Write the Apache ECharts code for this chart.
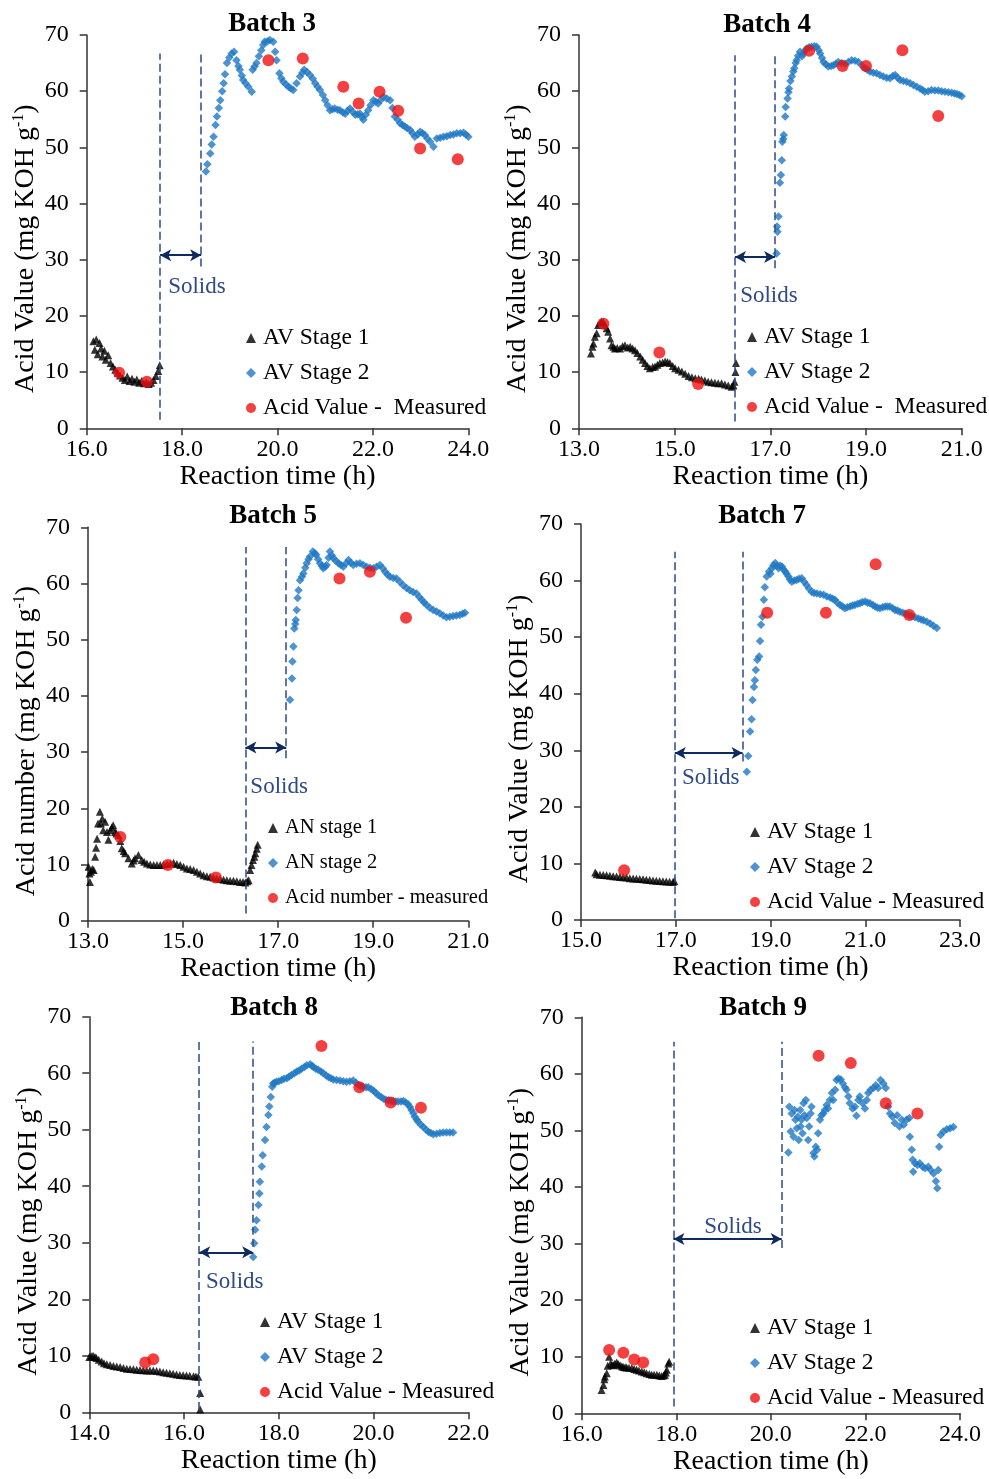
<!DOCTYPE html>
<html><head><meta charset="utf-8">
<script src="https://cdn.jsdelivr.net/npm/echarts@6/dist/echarts.min.js"></script>
<style>html,body{margin:0;padding:0;background:#fff}#c{width:989px;height:1479px}</style>
</head><body><div id="c"></div><script>
// ---------------- DATA ----------------
const yTicks = [0,10,20,30,40,50,60,70];

const b3XTicks = [16,18,20,22,24];
const b3Stage1 = [[16.14,15.5],[16.17,14.0],[16.2,15.8],[16.23,13.2],[16.27,15.2],[16.3,14.2],[16.33,12.8],[16.37,13.8],[16.4,12.2],[16.45,13.0],[16.5,11.6],[16.55,11.0],[16.6,10.4],[16.65,9.9],[16.7,9.4],[16.75,9.0],[16.8,8.6],[16.85,9.2],[16.9,8.4],[16.95,8.8],[17.0,8.3],[17.05,8.7],[17.1,8.1],[17.15,8.4],[17.2,8.0],[17.25,8.2],[17.3,7.9],[17.35,8.1],[17.4,8.6],[17.45,9.3],[17.5,10.2],[17.53,11.2]];
const b3Stage2 = [[18.5,45.7],[18.53,47.0],[18.59,48.9],[18.62,50.5],[18.66,51.9],[18.7,54.0],[18.73,55.5],[18.77,57.0],[18.8,58.4],[18.84,60.0],[18.87,61.4],[18.9,63.0],[18.94,65.0],[18.99,66.0],[19.04,66.7],[19.09,67.0],[19.14,65.5],[19.18,64.5],[19.21,63.8],[19.25,62.8],[19.28,62.0],[19.33,61.4],[19.39,60.8],[19.46,59.9],[19.48,63.8],[19.52,64.4],[19.56,65.0],[19.61,66.2],[19.66,67.3],[19.7,68.2],[19.73,68.8],[19.79,68.9],[19.84,69.1],[19.91,68.8],[19.95,67.0],[19.98,65.5],[20.04,63.2],[20.08,62.3],[20.12,61.7],[20.18,61.2],[20.23,60.8],[20.28,60.5],[20.33,60.2],[20.4,61.4],[20.47,62.6],[20.52,63.3],[20.56,63.8],[20.62,63.4],[20.68,62.9],[20.74,62.2],[20.79,61.4],[20.84,60.8],[20.89,60.2],[20.95,59.3],[21.0,58.4],[21.05,57.5],[21.1,56.6],[21.15,56.8],[21.2,56.9],[21.26,56.7],[21.31,56.6],[21.37,56.2],[21.42,56.0],[21.47,56.5],[21.52,56.9],[21.58,56.3],[21.63,55.8],[21.68,55.9],[21.73,56.0],[21.77,55.4],[21.8,54.9],[21.85,55.8],[21.9,56.6],[21.95,57.5],[22.01,58.4],[22.06,58.1],[22.11,57.8],[22.16,58.4],[22.22,59.0],[22.29,58.7],[22.36,58.4],[22.41,57.0],[22.46,55.5],[22.52,54.9],[22.57,54.3],[22.62,54.0],[22.67,53.7],[22.72,53.4],[22.78,53.1],[22.83,52.5],[22.88,51.9],[22.94,52.3],[22.99,52.8],[23.04,52.5],[23.09,52.2],[23.14,51.6],[23.2,51.0],[23.27,50.1],[23.34,51.6],[23.41,51.7],[23.48,51.9],[23.55,52.0],[23.62,52.2],[23.69,52.3],[23.76,52.5],[23.83,52.5],[23.9,52.6],[23.95,52.3],[24.0,51.9]];
const b3Measured = [[16.68,9.9],[17.26,8.3],[19.81,65.5],[20.53,65.8],[21.38,60.8],[21.7,57.8],[22.14,59.9],[22.53,56.5],[22.99,49.8],[23.78,47.9]];
const b3Lines = [[17.54,1.5,66.7],[18.4,28.8,66.7]];
const b3Arrow = [17.54,18.4,30.8];
const b3Solids = [18.31,25.2];

const b4XTicks = [13,15,17,19,21];
const b4Stage1 = [[13.25,13.3],[13.28,14.5],[13.3,15.1],[13.33,16.3],[13.37,16.9],[13.4,18.4],[13.44,18.8],[13.47,19.0],[13.51,18.9],[13.54,18.4],[13.58,17.8],[13.61,17.2],[13.65,16.0],[13.68,14.8],[13.72,14.5],[13.75,14.2],[13.8,14.3],[13.86,14.2],[13.91,14.6],[13.96,14.8],[14.02,14.4],[14.07,14.5],[14.12,14.2],[14.17,13.9],[14.22,13.4],[14.28,12.8],[14.33,12.2],[14.38,11.6],[14.43,11.1],[14.48,10.7],[14.54,10.9],[14.59,11.0],[14.64,11.3],[14.69,11.6],[14.75,11.7],[14.8,11.9],[14.85,11.8],[14.9,11.6],[14.96,11.1],[15.01,10.7],[15.08,10.4],[15.15,10.1],[15.22,9.7],[15.29,9.3],[15.36,9.1],[15.43,8.9],[15.5,8.8],[15.56,8.7],[15.63,8.5],[15.7,8.3],[15.77,8.2],[15.84,8.1],[15.91,8.0],[15.98,8.0],[16.05,7.8],[16.12,7.6],[16.19,7.4],[16.23,7.6],[16.25,8.3],[16.27,10.0],[16.28,11.6]];
const b4Stage2 = [[17.13,31.1],[17.14,35.9],[17.15,35.0],[17.17,37.7],[17.2,43.7],[17.22,45.1],[17.24,47.7],[17.25,51.0],[17.27,51.5],[17.28,52.2],[17.31,55.5],[17.32,57.2],[17.36,58.7],[17.38,59.8],[17.39,60.5],[17.42,61.8],[17.45,62.6],[17.48,63.5],[17.5,64.1],[17.53,65.0],[17.55,65.5],[17.58,66.3],[17.62,67.0],[17.66,66.2],[17.69,66.7],[17.72,67.2],[17.76,67.6],[17.81,67.8],[17.86,67.9],[17.92,68.0],[17.97,67.9],[18.01,67.3],[18.04,66.7],[18.08,65.9],[18.11,65.2],[18.16,64.8],[18.21,64.4],[18.27,64.5],[18.32,64.6],[18.37,64.9],[18.42,65.2],[18.49,65.0],[18.56,64.9],[18.63,65.2],[18.7,65.5],[18.77,65.4],[18.84,65.2],[18.91,64.6],[18.98,64.1],[19.03,63.8],[19.08,63.5],[19.15,63.3],[19.22,63.2],[19.29,62.9],[19.36,62.6],[19.43,62.4],[19.5,62.3],[19.56,62.7],[19.61,62.9],[19.66,62.4],[19.71,62.0],[19.78,61.8],[19.85,61.7],[19.92,61.4],[19.99,61.1],[20.06,60.8],[20.13,60.5],[20.18,60.2],[20.23,59.9],[20.3,60.0],[20.37,60.2],[20.44,60.1],[20.51,60.1],[20.58,60.0],[20.65,59.9],[20.72,59.8],[20.79,59.7],[20.85,59.6],[20.9,59.5],[20.95,59.3],[21.0,59.1]];
const b4Measured = [[13.51,18.6],[14.68,13.5],[15.49,7.9],[17.81,67.2],[18.51,64.5],[19.0,64.5],[19.76,67.3],[20.51,55.6]];
const b4Lines = [[16.26,1.2,66.4],[17.1,28.5,66.4]];
const b4Arrow = [16.26,17.1,30.5];
const b4Solids = [16.97,23.6];

const b5XTicks = [13,15,17,19,21];
const b5Stage1 = [[13.01,9.6],[13.03,8.4],[13.04,6.9],[13.06,8.7],[13.09,9.2],[13.12,9.0],[13.15,11.4],[13.17,13.0],[13.19,14.6],[13.21,17.3],[13.25,19.4],[13.27,17.3],[13.3,18.2],[13.32,16.1],[13.36,17.6],[13.4,15.8],[13.43,14.4],[13.47,16.1],[13.5,16.6],[13.53,17.0],[13.57,15.8],[13.6,15.5],[13.64,15.2],[13.68,14.2],[13.71,12.9],[13.75,12.4],[13.78,12.0],[13.85,11.1],[13.92,10.2],[13.96,10.7],[13.99,11.1],[14.06,11.7],[14.13,10.8],[14.18,10.5],[14.24,10.2],[14.31,10.0],[14.38,9.9],[14.45,9.9],[14.52,9.9],[14.59,10.0],[14.66,10.1],[14.73,10.2],[14.8,10.3],[14.87,10.1],[14.94,9.9],[15.01,9.6],[15.08,9.3],[15.15,9.2],[15.22,9.0],[15.29,8.7],[15.36,8.4],[15.43,8.1],[15.5,7.9],[15.57,7.8],[15.64,7.7],[15.71,7.5],[15.78,7.4],[15.85,7.3],[15.92,7.2],[15.99,7.1],[16.06,7.1],[16.13,7.0],[16.2,6.9],[16.26,6.9],[16.31,6.8],[16.35,7.0],[16.38,7.2],[16.41,9.0],[16.44,9.9],[16.47,10.8],[16.5,11.4],[16.52,12.0],[16.55,12.8],[16.57,13.5]];
const b5Stage2 = [[17.25,39.3],[17.29,43.1],[17.3,46.1],[17.32,48.8],[17.34,52.0],[17.36,52.8],[17.37,53.5],[17.39,55.3],[17.41,57.4],[17.43,58.8],[17.46,60.6],[17.5,61.2],[17.53,61.8],[17.57,62.8],[17.6,63.6],[17.64,64.3],[17.67,64.8],[17.73,65.7],[17.77,65.4],[17.8,65.1],[17.84,64.3],[17.88,63.6],[17.92,63.1],[17.95,62.7],[17.99,63.0],[18.02,63.3],[18.06,64.6],[18.09,65.7],[18.13,65.0],[18.16,64.5],[18.22,64.0],[18.27,63.6],[18.32,63.3],[18.37,63.0],[18.43,63.6],[18.48,64.2],[18.53,63.7],[18.58,63.3],[18.65,63.5],[18.72,63.6],[18.79,63.3],[18.86,63.0],[18.93,62.8],[19.0,62.7],[19.07,63.0],[19.14,63.3],[19.2,62.7],[19.25,62.1],[19.3,61.6],[19.35,61.2],[19.42,61.0],[19.49,60.9],[19.56,60.3],[19.63,59.7],[19.7,59.2],[19.77,58.8],[19.84,58.5],[19.91,58.2],[19.97,57.6],[20.02,57.1],[20.07,56.6],[20.12,56.2],[20.19,55.7],[20.26,55.3],[20.33,55.0],[20.4,54.7],[20.47,54.3],[20.54,54.0],[20.61,54.1],[20.68,54.2],[20.75,54.3],[20.82,54.4],[20.88,54.6],[20.93,54.8]];
const b5Measured = [[13.68,14.9],[14.68,9.9],[15.69,7.7],[18.29,60.9],[18.93,62.1],[19.69,53.9]];
const b5Lines = [[16.31,1.3,66.5],[17.17,28.9,66.5]];
const b5Arrow = [16.31,17.17,30.8];
const b5Solids = [17.02,23.8];

const b7XTicks = [15,17,19,21,23];
const b7Stage1 = [[15.3,8.4],[15.33,8.1],[15.4,8.0],[15.47,7.95],[15.54,7.9],[15.61,7.8],[15.68,7.75],[15.75,7.7],[15.82,7.6],[15.89,7.55],[15.96,7.5],[16.03,7.4],[16.1,7.35],[16.17,7.3],[16.24,7.25],[16.31,7.2],[16.38,7.1],[16.45,7.05],[16.52,7.0],[16.59,6.95],[16.66,6.9],[16.73,6.85],[16.8,6.8],[16.87,6.75],[16.94,6.7],[16.97,6.9]];
const b7Stage2 = [[18.5,26.2],[18.53,29.0],[18.57,33.3],[18.6,35.5],[18.62,38.9],[18.65,41.2],[18.67,42.4],[18.69,44.2],[18.72,46.0],[18.76,46.6],[18.78,49.3],[18.8,52.2],[18.83,53.6],[18.86,56.6],[18.88,58.8],[18.92,60.7],[18.97,61.6],[19.0,61.2],[19.03,62.2],[19.06,62.7],[19.1,63.1],[19.13,62.6],[19.17,62.2],[19.2,62.6],[19.24,62.5],[19.27,62.0],[19.31,61.6],[19.34,61.2],[19.38,60.7],[19.41,60.2],[19.45,59.8],[19.5,60.0],[19.55,60.1],[19.6,60.3],[19.66,60.4],[19.71,59.8],[19.76,59.2],[19.81,58.6],[19.87,58.0],[19.92,57.8],[19.98,57.7],[20.05,57.6],[20.12,57.5],[20.19,57.2],[20.26,57.0],[20.31,56.8],[20.36,56.6],[20.41,56.1],[20.47,55.7],[20.52,55.4],[20.57,55.1],[20.62,55.3],[20.68,55.4],[20.73,55.6],[20.78,55.7],[20.84,55.9],[20.89,56.0],[20.94,56.2],[21.0,56.3],[21.05,56.1],[21.1,56.0],[21.16,55.7],[21.21,55.4],[21.26,55.2],[21.31,55.1],[21.37,55.3],[21.42,55.4],[21.47,55.4],[21.52,55.4],[21.58,55.1],[21.63,54.8],[21.68,54.7],[21.73,54.5],[21.79,54.3],[21.84,54.2],[21.91,53.9],[21.98,53.7],[22.05,53.5],[22.12,53.3],[22.18,53.1],[22.23,53.0],[22.3,52.7],[22.37,52.4],[22.44,52.0],[22.51,51.6]];
const b7Measured = [[15.91,8.8],[18.93,54.3],[20.17,54.3],[21.22,62.9],[21.93,53.9]];
const b7Lines = [[16.98,0.3,65.1],[18.41,28.0,65.1]];
const b7Arrow = [16.98,18.41,29.5];
const b7Solids = [17.74,25.1];

const b8XTicks = [14,16,18,20,22];
const b8Stage1 = [[14.0,9.8],[14.04,9.9],[14.08,10.0],[14.12,9.8],[14.15,9.6],[14.2,9.3],[14.26,9.0],[14.31,8.7],[14.37,8.5],[14.44,8.35],[14.51,8.2],[14.58,8.1],[14.65,8.0],[14.72,7.85],[14.79,7.7],[14.86,7.65],[14.93,7.6],[15.0,7.55],[15.07,7.5],[15.14,7.45],[15.21,7.4],[15.28,7.4],[15.35,7.4],[15.42,7.3],[15.49,7.2],[15.56,7.1],[15.63,7.0],[15.7,6.9],[15.77,6.8],[15.84,6.7],[15.91,6.6],[15.98,6.55],[16.05,6.5],[16.12,6.45],[16.2,6.4],[16.25,6.35],[16.3,6.3],[16.34,3.4],[16.34,0.5]];
const b8Stage2 = [[17.46,27.5],[17.48,29.9],[17.5,32.3],[17.53,34.0],[17.57,36.7],[17.59,38.7],[17.6,40.8],[17.64,43.5],[17.66,45.5],[17.71,48.2],[17.74,50.5],[17.78,52.6],[17.8,54.1],[17.83,55.8],[17.86,57.6],[17.88,58.2],[17.91,58.3],[17.95,58.5],[18.0,58.6],[18.06,58.8],[18.11,59.0],[18.17,59.1],[18.22,59.4],[18.27,59.7],[18.33,60.0],[18.38,60.3],[18.43,60.5],[18.48,60.8],[18.54,61.1],[18.59,61.4],[18.66,61.6],[18.7,61.3],[18.73,61.1],[18.78,60.8],[18.83,60.6],[18.89,60.3],[18.94,60.0],[19.0,59.6],[19.05,59.3],[19.1,59.1],[19.15,58.9],[19.22,58.8],[19.29,58.7],[19.36,58.6],[19.43,58.5],[19.5,58.6],[19.57,58.7],[19.63,58.3],[19.68,57.9],[19.73,57.7],[19.78,57.6],[19.84,57.5],[19.89,57.5],[19.95,57.2],[20.0,56.9],[20.05,56.5],[20.1,56.1],[20.16,55.8],[20.21,55.5],[20.26,55.3],[20.31,55.2],[20.37,55.1],[20.42,55.0],[20.47,55.0],[20.52,55.0],[20.58,55.0],[20.63,55.1],[20.68,54.8],[20.73,54.5],[20.77,54.0],[20.8,53.5],[20.84,52.9],[20.87,52.3],[20.91,51.8],[20.94,51.4],[21.0,50.9],[21.05,50.5],[21.11,50.0],[21.16,49.6],[21.21,49.4],[21.26,49.2],[21.33,49.3],[21.4,49.4],[21.47,49.5],[21.54,49.5],[21.61,49.5],[21.68,49.5]];
const b8Measured = [[15.18,8.8],[15.35,9.4],[18.9,64.8],[19.7,57.5],[20.36,54.8],[21.0,53.9]];
const b8Lines = [[16.32,0.4,65.6],[17.46,29.3,65.6]];
const b8Arrow = [16.32,17.46,28.3];
const b8Solids = [17.07,23.1];

const b9XTicks = [16,18,20,22,24];
const b9Stage1 = [[16.42,4.1],[16.46,5.0],[16.48,6.0],[16.49,6.5],[16.53,7.1],[16.55,8.4],[16.58,10.0],[16.61,8.8],[16.64,8.6],[16.67,8.5],[16.7,8.8],[16.74,9.0],[16.77,8.7],[16.81,8.5],[16.85,8.3],[16.88,8.2],[16.92,8.15],[16.95,8.1],[17.0,8.05],[17.06,8.0],[17.11,7.85],[17.16,7.7],[17.21,7.55],[17.27,7.4],[17.32,7.25],[17.37,7.1],[17.43,6.95],[17.48,6.8],[17.53,6.8],[17.59,6.8],[17.64,6.7],[17.69,6.6],[17.73,6.7],[17.76,6.8],[17.78,7.2],[17.8,7.7],[17.83,8.8],[17.85,9.1]];
const b9Stage2 = [[20.37,46.1],[20.39,54.2],[20.42,49.8],[20.44,53.0],[20.48,48.9],[20.5,53.6],[20.52,51.9],[20.55,50.4],[20.57,52.4],[20.59,48.3],[20.62,53.6],[20.63,50.7],[20.65,51.9],[20.67,49.5],[20.69,54.8],[20.71,52.7],[20.74,55.4],[20.76,52.2],[20.79,48.3],[20.81,50.7],[20.84,53.0],[20.86,54.2],[20.9,46.0],[20.92,45.4],[20.95,47.1],[20.98,46.6],[21.0,49.5],[21.04,51.9],[21.07,52.7],[21.11,53.0],[21.14,53.6],[21.18,54.5],[21.21,53.9],[21.25,55.4],[21.29,56.6],[21.32,55.4],[21.36,57.2],[21.39,58.9],[21.43,59.2],[21.48,59.0],[21.52,58.3],[21.57,57.6],[21.6,57.2],[21.64,56.0],[21.67,54.8],[21.73,53.9],[21.78,54.2],[21.81,52.6],[21.85,55.4],[21.88,56.0],[21.94,54.8],[21.99,53.9],[22.03,55.4],[22.06,56.6],[22.11,57.2],[22.17,57.5],[22.22,58.0],[22.27,57.5],[22.32,58.9],[22.38,58.3],[22.43,57.5],[22.48,54.2],[22.52,53.0],[22.57,52.4],[22.62,51.3],[22.67,52.7],[22.72,50.7],[22.77,51.9],[22.81,51.0],[22.87,51.9],[22.93,52.2],[22.94,48.9],[22.98,46.6],[23.0,44.8],[23.01,42.7],[23.05,44.2],[23.1,43.9],[23.15,44.2],[23.21,43.6],[23.26,43.3],[23.33,43.6],[23.38,43.0],[23.44,42.4],[23.49,41.0],[23.52,39.8],[23.54,43.0],[23.56,47.1],[23.59,49.2],[23.65,49.8],[23.72,50.2],[23.79,50.4],[23.86,50.6]];
const b9Measured = [[16.58,11.2],[16.88,10.7],[17.11,9.5],[17.3,9.0],[21.01,63.2],[21.69,61.9],[22.43,54.8],[23.1,53.0]];
const b9Lines = [[17.94,1.2,65.7],[20.23,29.2,65.7]];
const b9Arrow = [17.94,20.23,30.8];
const b9Solids = [19.2,32.9];

// ---------------- LAYOUT / STYLE ----------------
const FONT = "'Liberation Serif','Times New Roman',serif";
const NAVY = '#2E4A86';
const ARROW = '#0E2A5E';
const BLUE = '#1F78C4';
const RED = '#F01010';

const panels = [
  {title:'Batch 3', ticks:b3XTicks, s1:b3Stage1, s2:b3Stage2, m:b3Measured, lines:b3Lines, arrow:b3Arrow, solids:b3Solids,
   yLabel:'Acid Value', names:['AV Stage 1','AV Stage 2','Acid Value -  Measured'],
   grid:{left:86.7, top:35, width:381.6, height:393.3}, tx:272, ty:11, lg:{left:246, top:326, fs:23.5}},
  {title:'Batch 4', ticks:b4XTicks, s1:b4Stage1, s2:b4Stage2, m:b4Measured, lines:b4Lines, arrow:b4Arrow, solids:b4Solids,
   yLabel:'Acid Value', names:['AV Stage 1 ','AV Stage 2 ','Acid Value -  Measured '],
   grid:{left:579, top:35, width:382.7, height:393.3}, tx:767, ty:12, lg:{left:747, top:325, fs:23.5}},
  {title:'Batch 5', ticks:b5XTicks, s1:b5Stage1, s2:b5Stage2, m:b5Measured, lines:b5Lines, arrow:b5Arrow, solids:b5Solids,
   yLabel:'Acid number', names:['AN stage 1','AN stage 2','Acid number - measured'],
   grid:{left:88, top:527.3, width:380.3, height:393.4}, tx:273, ty:503, lg:{left:268, top:816, fs:20.5}},
  {title:'Batch 7', ticks:b7XTicks, s1:b7Stage1, s2:b7Stage2, m:b7Measured, lines:b7Lines, arrow:b7Arrow, solids:b7Solids,
   yLabel:'Acid Value', names:['AV Stage 1  ','AV Stage 2  ','Acid Value - Measured'],
   grid:{left:581, top:524, width:379, height:396}, tx:762, ty:503, lg:{left:750, top:820, fs:23.5}},
  {title:'Batch 8', ticks:b8XTicks, s1:b8Stage1, s2:b8Stage2, m:b8Measured, lines:b8Lines, arrow:b8Arrow, solids:b8Solids,
   yLabel:'Acid Value', names:['AV Stage 1   ','AV Stage 2   ','Acid Value - Measured '],
   grid:{left:89.3, top:1016.7, width:379, height:395.6}, tx:274, ty:995, lg:{left:260, top:1310, fs:23.5}},
  {title:'Batch 9', ticks:b9XTicks, s1:b9Stage1, s2:b9Stage2, m:b9Measured, lines:b9Lines, arrow:b9Arrow, solids:b9Solids,
   yLabel:'Acid Value', names:['AV Stage 1    ','AV Stage 2    ','Acid Value - Measured  '],
   grid:{left:581.7, top:1017.3, width:378.3, height:396}, tx:763, ty:995, lg:{left:750, top:1316, fs:23.5}}
];

const option = {animation:false, backgroundColor:'#fff', title:[], grid:[], xAxis:[], yAxis:[], legend:[], series:[]};

panels.forEach((p, i) => {
  option.title.push({text:p.title, left:p.tx, top:p.ty, textAlign:'center', padding:0,
    textStyle:{fontFamily:FONT, fontWeight:'bold', fontSize:27, color:'#000'}});
  option.grid.push(Object.assign({containLabel:false}, p.grid));
  const xmin = p.ticks[0], xmax = p.ticks[p.ticks.length-1];
  option.xAxis.push({type:'value', gridIndex:i, min:xmin, max:xmax,
    name:'Reaction time (h)', nameLocation:'middle', nameGap:31,
    nameTextStyle:{fontFamily:FONT, fontSize:28, color:'#000'},
    axisLine:{lineStyle:{color:'#333', width:1.5}},
    axisTick:{show:true, inside:false, length:7, lineStyle:{color:'#333', width:1.5}, customValues:p.ticks},
    axisLabel:{fontFamily:FONT, fontSize:24, color:'#000', margin:9, customValues:p.ticks, formatter:v=>v.toFixed(1)},
    splitLine:{show:false}});
  option.yAxis.push({type:'value', gridIndex:i, min:yTicks[0], max:yTicks[yTicks.length-1], interval:10,
    name:'{a|'+p.yLabel+' (mg KOH g}{s|-1}{a|)}', nameLocation:'middle', nameGap:46,
    nameTextStyle:{padding:[0,34,0,0], rich:{a:{fontFamily:FONT, fontSize:28, color:'#000', lineHeight:30},
                         s:{fontFamily:FONT, fontSize:16, color:'#000', verticalAlign:'top', lineHeight:16}}},
    axisLine:{show:true, lineStyle:{color:'#333', width:1.5}},
    axisTick:{show:true, inside:false, length:7, lineStyle:{color:'#333', width:1.5}},
    axisLabel:{fontFamily:FONT, fontSize:24, color:'#000', margin:18},
    splitLine:{show:false}});
  option.legend.push({orient:'vertical', left:p.lg.left, top:p.lg.top, padding:0, itemGap:11,
    itemWidth:10, itemHeight:10, selectedMode:false,
    data:[{name:p.names[0], icon:'triangle'},{name:p.names[1], icon:'diamond'},{name:p.names[2], icon:'circle'}],
    textStyle:{fontFamily:FONT, fontSize:p.lg.fs, color:'#000', lineHeight:24, padding:[0,0,0,2]}});
  const mlData = p.lines.map(l => [{coord:[l[0], l[1]]},{coord:[l[0], l[2]]}]);
  mlData.push([{coord:[p.arrow[0], p.arrow[2]], symbol:'arrow', symbolSize:[9,11],
      lineStyle:{type:'solid', color:ARROW, width:1.8}},
    {coord:[p.arrow[1], p.arrow[2]], symbol:'arrow', symbolSize:[9,11]}]);
  option.series.push({type:'scatter', name:p.names[0], xAxisIndex:i, yAxisIndex:i, data:p.s1,
    symbol:'triangle', symbolSize:8, itemStyle:{color:'#000'},
    markLine:{silent:true, symbol:['none','none'], label:{show:false},
      lineStyle:{type:[8,4], color:NAVY, width:1.5}, data:mlData},
    markPoint:{silent:true, data:[{coord:p.solids, symbol:'rect', symbolSize:1, itemStyle:{color:'rgba(0,0,0,0)'},
      label:{show:true, position:'inside', formatter:'Solids', fontFamily:FONT, fontSize:23, color:NAVY}}]}
  });
  option.series.push({type:'scatter', name:p.names[1], xAxisIndex:i, yAxisIndex:i, data:p.s2,
    symbol:'diamond', symbolSize:8.5, itemStyle:{color:BLUE}});
  option.series.push({type:'scatter', name:p.names[2], xAxisIndex:i, yAxisIndex:i, data:p.m,
    symbol:'circle', symbolSize:12, itemStyle:{color:RED}, z:5});
});

const chart = echarts.init(document.getElementById('c'), null, {renderer:'canvas'});
chart.setOption(option);
</script></body></html>
